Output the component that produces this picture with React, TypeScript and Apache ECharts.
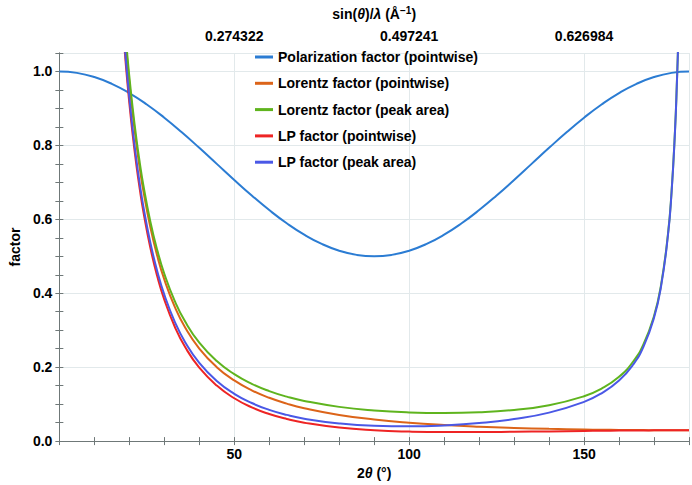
import React, { useEffect, useRef } from 'react';
import * as echarts from 'echarts';

// 2θ (degrees) sample positions for the polarization curve
const polX = [0, 5, 10, 15, 20, 25, 30, 35, 40, 45, 50, 55, 60, 65, 70, 75, 80, 85, 90, 95, 100, 105, 110, 115, 120, 125, 130, 135, 140, 145, 150, 155, 160, 165, 170, 175, 180];
const polarization = [1.0, 0.9962, 0.9849, 0.9665, 0.9415, 0.9107, 0.875, 0.8355, 0.7934, 0.75, 0.7066, 0.6645, 0.625, 0.5893, 0.5585, 0.5335, 0.5151, 0.5038, 0.5, 0.5038, 0.5151, 0.5335, 0.5585, 0.5893, 0.625, 0.6645, 0.7066, 0.75, 0.7934, 0.8355, 0.875, 0.9107, 0.9415, 0.9665, 0.9849, 0.9962, 1.0];

// 2θ sample positions for the Lorentz / LP curves
const lorX = [18, 19, 20, 21, 22, 23, 24, 26, 28, 30, 33, 36, 40, 45, 50, 55, 60, 65, 70, 80, 90, 100, 110, 120, 130, 140, 150, 155, 160, 164, 167, 170, 172, 174, 175, 176, 176.5, 177, 178, 180];
const lorentzPointwise = [1.1973, 1.0756, 0.9717, 0.8823, 0.8048, 0.7371, 0.6778, 0.579, 0.5006, 0.4374, 0.3632, 0.3068, 0.2505, 0.2001, 0.1641, 0.1374, 0.1172, 0.1015, 0.0891, 0.0709, 0.0586, 0.0499, 0.0437, 0.0391, 0.0357, 0.0332, 0.0314, 0.0307, 0.0302, 0.0299, 0.0297, 0.0295, 0.0294, 0.0294, 0.0294, 0.0293, 0.0293, 0.0293, 0.0293, 0.0293];
const lorentzPeakArea = [1.2122, 1.0906, 0.9867, 0.8973, 0.8198, 0.7522, 0.693, 0.5943, 0.516, 0.4528, 0.3788, 0.3226, 0.2666, 0.2166, 0.181, 0.1549, 0.1353, 0.1203, 0.1087, 0.0926, 0.0829, 0.0777, 0.0761, 0.0781, 0.0844, 0.097, 0.1213, 0.142, 0.174, 0.2147, 0.2622, 0.3387, 0.4221, 0.5614, 0.6731, 0.8407, 0.9604, 1.1201, 1.6795, null];
const lpPointwise = [1.1401, 1.0186, 0.9149, 0.8256, 0.7483, 0.6809, 0.6218, 0.5234, 0.4455, 0.3827, 0.3094, 0.2538, 0.1987, 0.1501, 0.1159, 0.0913, 0.0733, 0.0598, 0.0497, 0.0365, 0.0293, 0.0257, 0.0244, 0.0244, 0.0252, 0.0263, 0.0275, 0.028, 0.0284, 0.0287, 0.0289, 0.0291, 0.0292, 0.0292, 0.0293, 0.0293, 0.0293, 0.0293, 0.0293, 0.0293];
const lpPeakArea = [1.1543, 1.0328, 0.929, 0.8397, 0.7623, 0.6948, 0.6357, 0.5372, 0.4591, 0.3962, 0.3226, 0.2669, 0.2115, 0.1624, 0.1279, 0.103, 0.0846, 0.0709, 0.0607, 0.0477, 0.0414, 0.04, 0.0425, 0.0488, 0.0596, 0.077, 0.1062, 0.1294, 0.1638, 0.2065, 0.2556, 0.3336, 0.418, 0.5583, 0.6705, 0.8387, 0.9586, 1.1185, 1.6785, null];

// Axis tick labels
const bottomTickValues = [50, 100, 150];
const topTickValues = [50, 100, 150];
const topTickLabels = ['0.274322', '0.497241', '0.626984'];
const yTickValues = [0, 0.2, 0.4, 0.6, 0.8, 1.0];

const seriesNames = [
  'Polarization factor (pointwise)',
  'Lorentz factor (pointwise)',
  'Lorentz factor (peak area)',
  'LP factor (pointwise)',
  'LP factor (peak area)',
];
const seriesColors = ['#2b7cd3', '#dc6419', '#5fb41e', '#ee2424', '#4a58e6'];

const FONT = '"Liberation Sans", Arial, Helvetica, sans-serif';
const FRAME = '#6f7878';
const GRIDC = '#e2e9eb';

const pairs = (xs: number[], ys: (number | null)[]) => xs.map((x, i) => [x, ys[i]]);

const near = (v: number, arr: number[]) => arr.some((a) => Math.abs(a - v) < 1e-6);

export default function App() {
  const ref = useRef<HTMLDivElement>(null);
  useEffect(() => {
    if (!ref.current) return;
    const chart = echarts.init(ref.current, null, { renderer: 'svg' });
    const labelStyle = { fontFamily: FONT, fontSize: 14, fontWeight: 'bold' as const, color: '#000' };
    const tickAxisCommon = {
      type: 'value' as const,
      axisLine: { show: true, lineStyle: { color: FRAME, width: 1 } },
      axisTick: { show: true, inside: true, length: 4, lineStyle: { color: FRAME, width: 1 } },
      splitLine: { show: false },
    };
    const allData = [
      pairs(polX, polarization),
      pairs(lorX, lorentzPointwise),
      pairs(lorX, lorentzPeakArea),
      pairs(lorX, lpPointwise),
      pairs(lorX, lpPeakArea),
    ];
    chart.setOption({
      animation: false,
      backgroundColor: '#ffffff',
      grid: { left: 42, right: 1.5, top: 43, bottom: 41, containLabel: false },
      legend: {
        orient: 'vertical',
        left: 255,
        top: 49,
        icon: 'rect',
        itemWidth: 18,
        itemHeight: 3,
        itemGap: 10.3,
        padding: 0,
        data: seriesNames,
        textStyle: { ...labelStyle, lineHeight: 16 },
      },
      xAxis: [
        {
          ...tickAxisCommon,
          position: 'bottom',
          min: 0,
          max: 180,
          interval: 10,
          axisLabel: {
            ...labelStyle,
            margin: 6,
            formatter: (v: number) => (near(v, bottomTickValues) ? String(v) : ''),
          },
          name: '{n|2}{i|θ}{n| (°)}',
          nameLocation: 'middle',
          nameGap: 21,
          nameTextStyle: {
            rich: {
              n: { ...labelStyle },
              i: { ...labelStyle, fontStyle: 'italic' },
            },
          },
        },
        {
          ...tickAxisCommon,
          position: 'top',
          min: 0,
          max: 180,
          interval: 10,
          axisLabel: {
            ...labelStyle,
            margin: 10,
            formatter: (v: number) => {
              const idx = topTickValues.findIndex((t) => Math.abs(t - v) < 1e-6);
              return idx >= 0 ? topTickLabels[idx] : '';
            },
          },
          name: '{n|sin(}{i|θ}{n|)/}{i|λ}{n| (Å}{s|−1}{n|)}',
          nameLocation: 'middle',
          nameGap: 30,
          nameTextStyle: {
            rich: {
              n: { ...labelStyle, lineHeight: 18 },
              i: { ...labelStyle, fontStyle: 'italic', lineHeight: 18 },
              s: { ...labelStyle, fontSize: 10, verticalAlign: 'top', lineHeight: 10 },
            },
          },
        },
        {
          type: 'value',
          position: 'bottom',
          min: 0,
          max: 180,
          interval: 50,
          axisLine: { show: false },
          axisTick: { show: false },
          axisLabel: { show: false },
          splitLine: { show: true, lineStyle: { color: GRIDC, width: 1 } },
        },
      ],
      yAxis: [
        {
          ...tickAxisCommon,
          position: 'left',
          min: 0,
          max: 1.05,
          interval: 0.05,
          axisLabel: {
            ...labelStyle,
            margin: 7,
            formatter: (v: number) => (near(v, yTickValues) ? v.toFixed(1) : ''),
          },
          name: 'factor',
          nameLocation: 'middle',
          nameGap: 32,
          nameRotate: 90,
          nameTextStyle: { ...labelStyle },
        },
        {
          ...tickAxisCommon,
          position: 'right',
          min: 0,
          max: 1.05,
          interval: 0.05,
          axisLabel: { show: false },
        },
        {
          type: 'value',
          position: 'left',
          min: 0,
          max: 1.05,
          interval: 0.2,
          axisLine: { show: false },
          axisTick: { show: false },
          axisLabel: { show: false },
          splitLine: { show: true, lineStyle: { color: GRIDC, width: 1 } },
        },
      ],
      series: seriesNames.map((name, i) => ({
        type: 'line',
        name,
        data: allData[i],
        xAxisIndex: 0,
        yAxisIndex: 0,
        symbol: 'none',
        smooth: true,
        clip: true,
        connectNulls: false,
        lineStyle: { width: 2, color: seriesColors[i] },
        itemStyle: { color: seriesColors[i] },
        emphasis: { disabled: true },
      })),
    });
    return () => chart.dispose();
  }, []);
  return (
    <div
      ref={ref}
      style={{ position: 'absolute', left: 0, top: 0, width: 692, height: 485 }}
    />
  );
}
